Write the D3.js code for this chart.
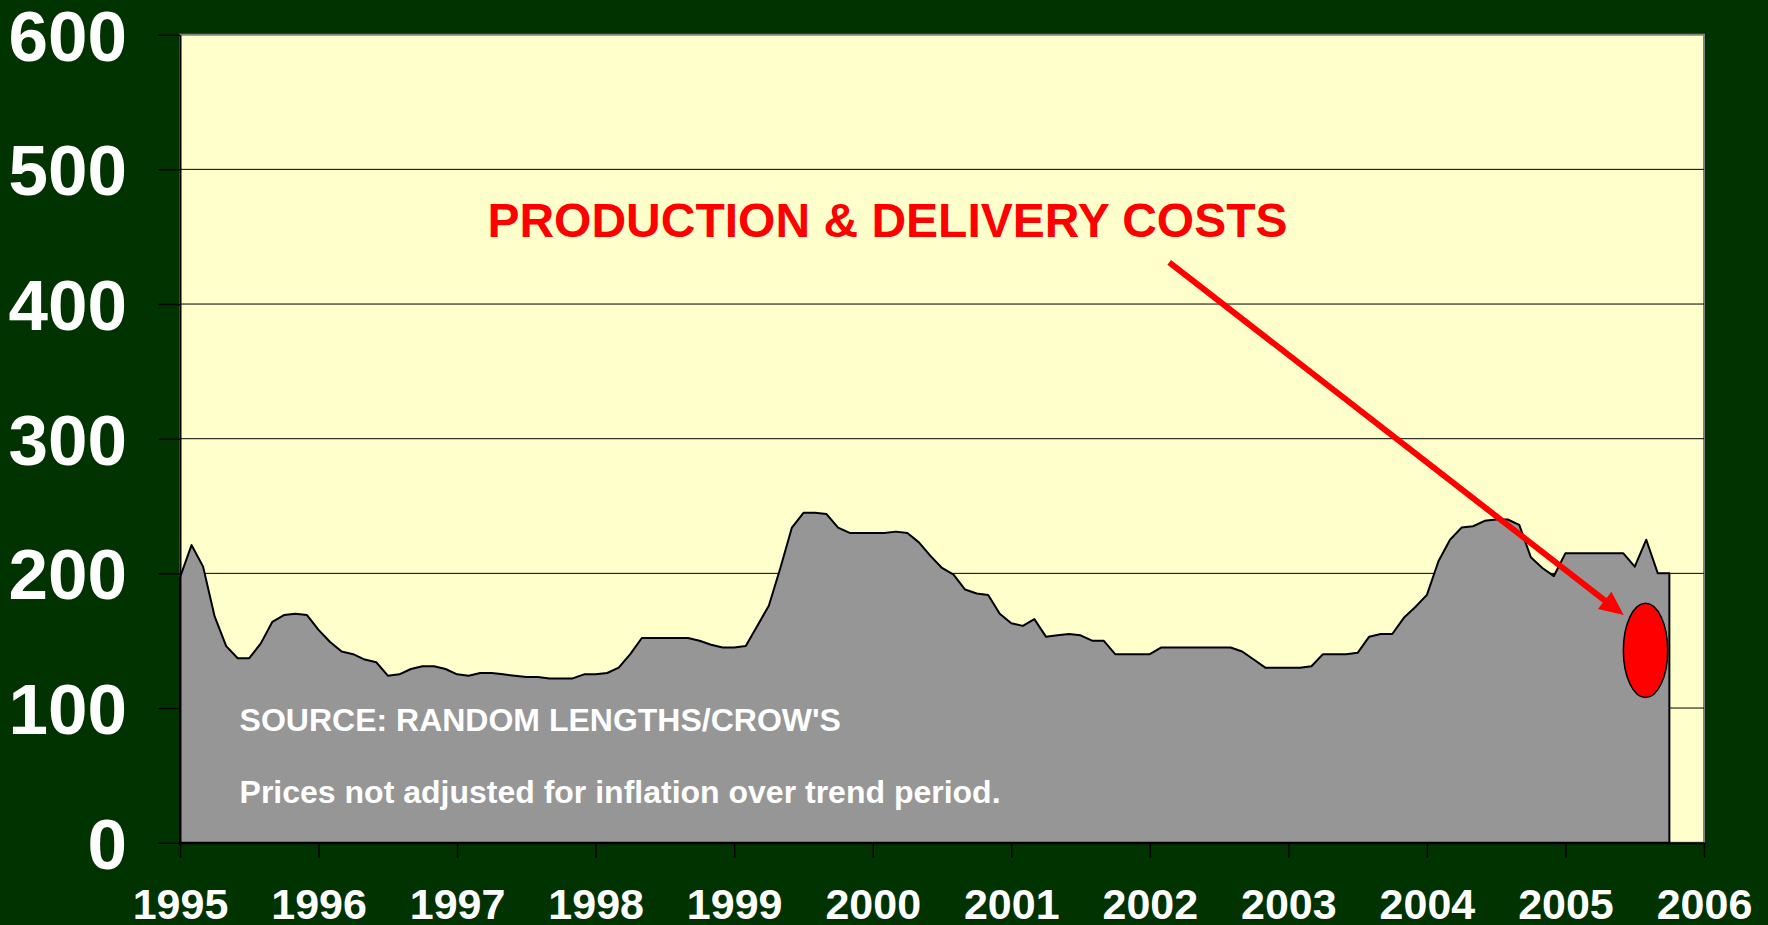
<!DOCTYPE html>
<html>
<head>
<meta charset="utf-8">
<script src="https://cdn.jsdelivr.net/npm/d3@7"></script>
<style>
  body { margin: 0; background: #003300; }
  svg { display: block; }
  text { font-family: "Liberation Sans", Arial, sans-serif; font-weight: bold; }
</style>
</head>
<body>
<svg id="chart" width="1768" height="925"></svg>
<script>
// monthly prices, Jan 1995 .. Oct 2005
var startYear = 1995;
var prices = [
  197, 221, 205, 168, 146, 137, 137, 148, 164, 169, 170, 169,
  158, 149, 142, 140, 136, 134, 124, 125, 129, 131, 131, 129,
  125, 124, 126, 126, 125, 124, 123, 123, 122, 122, 122, 125,
  125, 126, 130, 140, 152, 152, 152, 152, 152, 150, 147, 145,
  145, 146, 161, 176, 204, 234, 245, 245, 244, 234, 230, 230,
  230, 230, 231, 230, 223, 213, 204, 199, 188, 185, 184, 170,
  163, 161, 166, 153, 154, 155, 154, 150, 150, 140, 140, 140,
  140, 145, 145, 145, 145, 145, 145, 145, 142, 136, 130, 130,
  130, 130, 131, 140, 140, 140, 141, 153, 155, 155, 167, 175,
  184, 209, 225, 234, 235, 239, 240, 240, 236, 212, 204, 198,
  215, 215, 215, 215, 215, 215, 205, 225, 200, 200
];
var yearTicks = [1995, 1996, 1997, 1998, 1999, 2000, 2001, 2002, 2003, 2004, 2005, 2006];
var valueTicks = [0, 100, 200, 300, 400, 500, 600];
var gridValues = [100, 200, 300, 400, 500];

var titleText = "PRODUCTION & DELIVERY COSTS";
var sourceText = "SOURCE: RANDOM LENGTHS/CROW'S";
var noteText = "Prices not adjusted for inflation over trend period.";

// annotation positions in data units (year, value)
var titlePos = [1997.219, 450];
var sourcePos = [1995.43, 82.9];
var notePos = [1995.43, 29.2];
var arrowFrom = [2002.14, 431];
var arrowTo = [2005.42, 169];
var spot = { year: 2005.578, value: 142.8, rYear: 0.16, rValue: 35 };

var svg = d3.select("#chart");
var plotLeft = 180, plotRight = 1704, plotTop = 34.7, plotBottom = 842.7;

var x = d3.scaleLinear().domain([1995, 2006]).range([plotLeft, plotRight]);
var y = d3.scaleLinear().domain([0, 600]).range([plotBottom, plotTop]);

svg.append("rect")
  .attr("width", 1768).attr("height", 925)
  .attr("fill", "#003300");

svg.append("rect")
  .attr("x", plotLeft).attr("y", plotTop)
  .attr("width", plotRight - plotLeft).attr("height", plotBottom - plotTop)
  .attr("fill", "#ffffcc")
  .attr("stroke", "#808080")
  .attr("stroke-width", 2);

svg.append("g").selectAll("line")
  .data(gridValues)
  .enter().append("line")
  .attr("x1", plotLeft).attr("x2", plotRight)
  .attr("y1", function(d) { return y(d); })
  .attr("y2", function(d) { return y(d); })
  .attr("stroke", "#000")
  .attr("stroke-width", 1);

var area = d3.area()
  .x(function(d, i) { return x(startYear + i / 12); })
  .y0(y(0))
  .y1(function(d) { return y(d); });

svg.append("path")
  .datum(prices)
  .attr("d", area)
  .attr("fill", "#969696")
  .attr("stroke", "#000")
  .attr("stroke-width", 2)
  .attr("stroke-linejoin", "round");

// axes
var yAxis = svg.append("g")
  .attr("transform", "translate(" + plotLeft + ",0)")
  .call(d3.axisLeft(y).tickValues(valueTicks).tickSize(22).tickSizeOuter(0).tickPadding(31));
var xAxis = svg.append("g")
  .attr("transform", "translate(0," + plotBottom + ")")
  .call(d3.axisBottom(x).tickValues(yearTicks).tickFormat(d3.format("d")).tickSize(15).tickSizeOuter(0).tickPadding(31));

[yAxis, xAxis].forEach(function(g) {
  g.select(".domain").attr("stroke", "#000").attr("stroke-width", 2);
  g.selectAll(".tick line").attr("stroke", "#000").attr("stroke-width", 1.5);
  g.selectAll("text").attr("fill", "#fff").attr("font-family", null);
});
yAxis.selectAll("text").attr("font-size", 71).attr("dy", "0.36em");
xAxis.selectAll("text").attr("font-size", 43);

// texts inside the plot
svg.append("text")
  .attr("x", x(sourcePos[0])).attr("y", y(sourcePos[1]))
  .attr("fill", "#fff").attr("font-size", 32)
  .text(sourceText);
svg.append("text")
  .attr("x", x(notePos[0])).attr("y", y(notePos[1]))
  .attr("fill", "#fff").attr("font-size", 32)
  .text(noteText);

svg.append("text")
  .attr("x", x(titlePos[0])).attr("y", y(titlePos[1]))
  .attr("fill", "#ff0000").attr("font-size", 48)
  .text(titleText);

// arrow
var ax1 = x(arrowFrom[0]), ay1 = y(arrowFrom[1]);
var ax2 = x(arrowTo[0]), ay2 = y(arrowTo[1]);
var len = Math.sqrt((ax2 - ax1) * (ax2 - ax1) + (ay2 - ay1) * (ay2 - ay1));
var ux = (ax2 - ax1) / len, uy = (ay2 - ay1) / len;
var headLen = 24, headHalf = 11;
var bx = ax2 - ux * headLen, by = ay2 - uy * headLen;

svg.append("line")
  .attr("x1", ax1).attr("y1", ay1)
  .attr("x2", bx + ux * 2).attr("y2", by + uy * 2)
  .attr("stroke", "#ff0000")
  .attr("stroke-width", 6);
svg.append("path")
  .attr("d", "M" + ax2 + "," + ay2 +
    "L" + (bx - uy * headHalf) + "," + (by + ux * headHalf) +
    "L" + (bx + uy * headHalf) + "," + (by - ux * headHalf) + "Z")
  .attr("fill", "#ff0000");

svg.append("ellipse")
  .attr("cx", x(spot.year)).attr("cy", y(spot.value))
  .attr("rx", x(spot.year + spot.rYear) - x(spot.year))
  .attr("ry", y(0) - y(spot.rValue))
  .attr("fill", "#ff0000")
  .attr("stroke", "#000")
  .attr("stroke-width", 1.5);
</script>
</body>
</html>
